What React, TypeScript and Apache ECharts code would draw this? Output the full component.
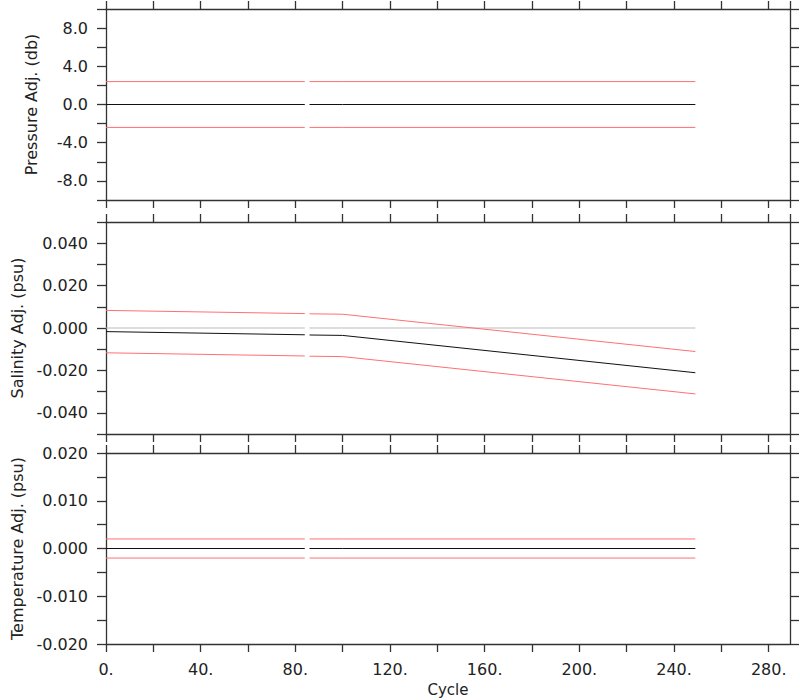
import React, { useEffect, useRef } from "react";
import * as echarts from "echarts";

const cycles = [0, 84, 85, 86, 100, 249];

const presAdj = [0, 0, null, 0, 0, 0];
const presUpper = [2.4, 2.4, null, 2.4, 2.4, 2.4];
const presLower = [-2.4, -2.4, null, -2.4, -2.4, -2.4];

const salZero = [0, 0, null, 0, 0, 0];
const salAdj = [-0.0017, -0.0032, null, -0.0033, -0.0035, -0.0211];
const salUpper = [0.0083, 0.0068, null, 0.0067, 0.0065, -0.0111];
const salLower = [-0.0117, -0.0132, null, -0.0133, -0.0135, -0.0311];

const tempAdj = [0, 0, null, 0, 0, 0];
const tempUpper = [0.002, 0.002, null, 0.002, 0.002, 0.002];
const tempLower = [-0.002, -0.002, null, -0.002, -0.002, -0.002];

const xTickLabels = ["0.", "40.", "80.", "120.", "160.", "200.", "240.", "280."];
const yTitles = ["Pressure Adj. (db)", "Salinity Adj. (psu)", "Temperature Adj. (psu)"];

const FONT = "DejaVu Sans";
const AXIS_COLOR = "#333";
const RED = "#ff7070";

function pts(vals: (number | null)[]) {
  return cycles.map((c, i) => [c, vals[i] === null ? "-" : vals[i]]);
}

export default function App() {
  const ref = useRef<HTMLDivElement>(null);
  useEffect(() => {
    const chart = echarts.init(ref.current!, null, { renderer: "svg" });
    const grids = [
      { left: 106, right: 10, top: 9, height: 191 },
      { left: 106, right: 10, top: 222, height: 212 },
      { left: 106, right: 10, top: 453, height: 191 },
    ];
    const lineStyle = { color: AXIS_COLOR, width: 1.3 };
    const xAxis: any[] = [];
    grids.forEach((_, i) => {
      ["bottom", "top"].forEach((pos) => {
        const isLabel = i === 2 && pos === "bottom";
        xAxis.push({
          type: "value",
          gridIndex: i,
          position: pos,
          min: 0,
          max: 289,
          interval: 20,
          splitLine: { show: false },
          axisLine: { show: true, onZero: false, lineStyle },
          axisTick: { show: true, inside: false, length: 8, lineStyle },
          axisLabel: {
            show: isLabel,
            margin: 17,
            fontFamily: FONT,
            fontSize: 16,
            color: "#222",
            showMaxLabel: false,
            formatter: (v: number) => {
              const r = Math.round(v);
              if (r % 40 !== 0 || r > 280) return "";
              return xTickLabels[r / 40];
            },
          },
          name: isLabel ? "Cycle" : "",
          nameLocation: "middle",
          nameGap: 38,
          nameTextStyle: { fontFamily: FONT, fontSize: 15, color: "#222" },
        });
      });
    });
    const yCfg = [
      { min: -10, max: 10, interval: 2, fmt: (v: number) => { const r = Math.round(v); return Math.abs(r) <= 8 && r % 4 === 0 ? r.toFixed(1) : ""; } },
      { min: -0.05, max: 0.05, interval: 0.01, fmt: (v: number) => { const r = Math.round(v * 1000); return Math.abs(r) < 50 && r % 20 === 0 ? (r / 1000).toFixed(3) : ""; } },
      { min: -0.02, max: 0.02, interval: 0.005, fmt: (v: number) => { const r = Math.round(v * 1000); return r % 10 === 0 ? (r / 1000).toFixed(3) : ""; } },
    ];
    const yAxis: any[] = [];
    yCfg.forEach((c, i) => {
      ["left", "right"].forEach((pos) => {
        const isLeft = pos === "left";
        yAxis.push({
          type: "value",
          gridIndex: i,
          position: pos,
          min: c.min,
          max: c.max,
          interval: c.interval,
          splitLine: { show: false },
          axisLine: { show: true, onZero: false, lineStyle },
          axisTick: { show: true, inside: false, length: 9, lineStyle },
          axisLabel: {
            show: isLeft,
            margin: 18,
            fontFamily: FONT,
            fontSize: 16,
            color: "#222",
            formatter: c.fmt,
          },
          name: isLeft ? yTitles[i] : "",
          nameLocation: "middle",
          nameGap: 67,
          nameTextStyle: { fontFamily: FONT, fontSize: 16, color: "#222" },
        });
      });
    });
    const mk = (i: number, vals: (number | null)[], color: string, z = 2) => ({
      type: "line",
      xAxisIndex: i * 2,
      yAxisIndex: i * 2,
      data: pts(vals),
      showSymbol: false,
      symbol: "none",
      connectNulls: false,
      lineStyle: { color, width: 1 },
      z,
    });
    chart.setOption({
      animation: false,
      backgroundColor: "#fff",
      grid: grids,
      xAxis,
      yAxis,
      series: [
        mk(0, presUpper, RED),
        mk(0, presLower, RED),
        mk(0, presAdj, "#111", 3),
        mk(1, salZero, "#bbbbbb", 1),
        mk(1, salUpper, RED),
        mk(1, salLower, RED),
        mk(1, salAdj, "#111", 3),
        mk(2, tempUpper, RED),
        mk(2, tempLower, RED),
        mk(2, tempAdj, "#111", 3),
      ],
    });
    return () => chart.dispose();
  }, []);
  return (
    <div
      ref={ref}
      style={{ position: "absolute", left: 0, top: 0, width: 800, height: 700 }}
    />
  );
}
